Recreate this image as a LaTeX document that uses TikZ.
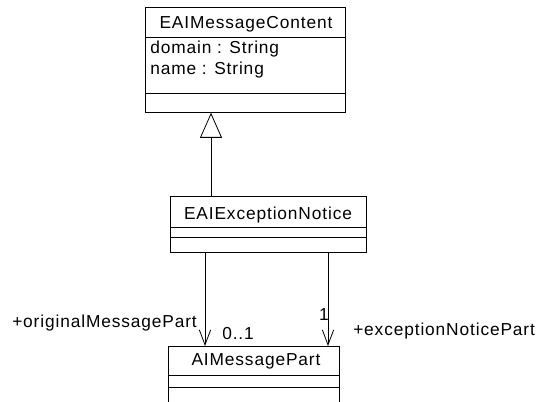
\documentclass[tikz,border=0pt]{standalone}
\usepackage{fontspec}
\setmainfont{Liberation Sans}[LetterSpace=5]
\usetikzlibrary{arrows.meta}
\begin{document}
\begin{tikzpicture}[x=0.75pt,y=-0.75pt,
  umlbox/.style={draw=black,line width=0.6pt,inner sep=0pt,anchor=north west,fill=white},
  umltext/.style={inner sep=0pt,font=\fontsize{13pt}{15pt}\selectfont,text=black},
  multtext/.style={umltext},
  sepline/.style={draw=black,line width=0.6pt},
  assoc/.style={draw=black,line width=0.6pt,-{Straight Barb[length=11.25pt,width=8.5pt]}},
  gen/.style={draw=black,line width=0.6pt,-{Triangle[open,length=18.75pt,width=16.5pt]}}]
\clip (0,0) rectangle (539,402);
\fill[white] (0,0) rectangle (539,402);
% classes
\node[umlbox,minimum width=150pt,minimum height=78.75pt] (mc) at (145,7) {};
\node[umlbox,minimum width=147pt,minimum height=42pt] (en) at (170,196) {};
\node[umlbox,minimum width=128.25pt,minimum height=60pt] (mp) at (168,346) {};
% compartments
\coordinate (s1) at (0,37);  \coordinate (s2) at (0,93);
\coordinate (s3) at (0,227); \coordinate (s4) at (0,237);
\coordinate (s5) at (0,375); \coordinate (s6) at (0,387);
\draw[sepline] (mc.west |- s1) -- (mc.east |- s1);
\draw[sepline] (mc.west |- s2) -- (mc.east |- s2);
\draw[sepline] (en.west |- s3) -- (en.east |- s3);
\draw[sepline] (en.west |- s4) -- (en.east |- s4);
\draw[sepline] (mp.west |- s5) -- (mp.east |- s5);
\draw[sepline] (mp.west |- s6) -- (mp.east |- s6);
% texts
\node[umltext,anchor=base] (mcname) at (246,29) {EAIMessageContent};
\node[umltext,anchor=base west] (mca1) at (150,54) {domain : String};
\node[umltext,anchor=base west] (mca2) at (150,75) {name : String};
\node[umltext,anchor=base] (enname) at (268,220) {EAIExceptionNotice};
\node[umltext,anchor=base] (mpname) at (256,366) {AIMessagePart};
% generalization
\coordinate (gx) at (211,0);
\draw[gen] (en.north -| gx) -- (mc.south -| gx);
% associations
\coordinate (ax1) at (205,0);
\coordinate (ax2) at (328,0);
\draw[assoc] (en.south -| ax1) -- (mp.north -| ax1);
\draw[assoc] (en.south -| ax2) -- (mp.north -| ax2);
% association labels
\node[umltext,anchor=base west] (r1) at (12,328) {+originalMessagePart};
\node[multtext,anchor=base west] (m1) at (222,340) {0..1};
\node[multtext,anchor=base] (m2) at (324,321) {1};
\node[umltext,anchor=base west] (r2) at (353,336) {+exceptionNoticePart};
\end{tikzpicture}
\end{document}
